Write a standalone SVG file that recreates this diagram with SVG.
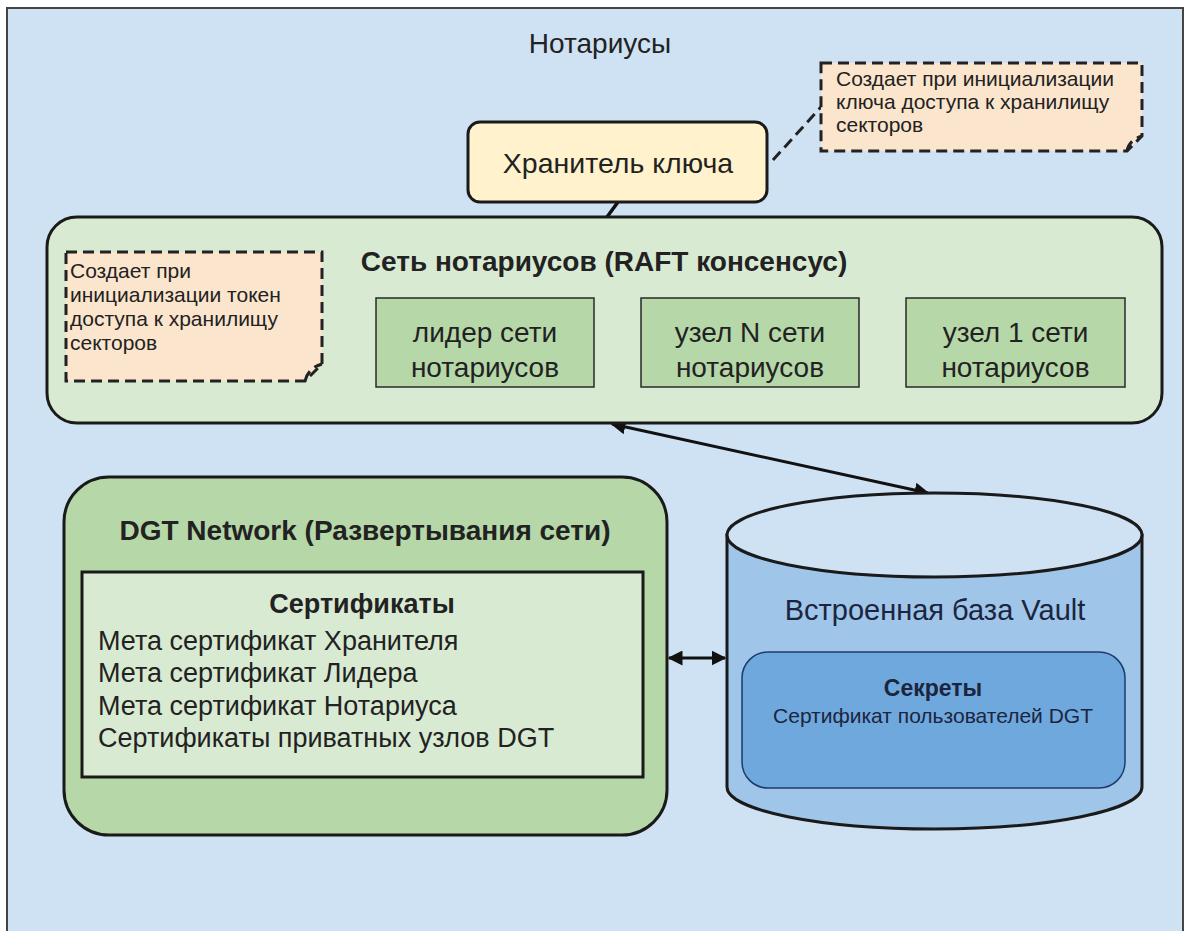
<svg xmlns="http://www.w3.org/2000/svg" width="1192" height="931" viewBox="0 0 1192 931">
<defs>
<style>
text{font-family:"Liberation Sans",Arial,sans-serif;fill:#222}
.c{text-anchor:middle}
.b{font-weight:bold}
.dash{fill:none;stroke:#222;stroke-width:3;stroke-dasharray:11,6}
.note{fill:#fce5cd;stroke:#222;stroke-width:3;stroke-dasharray:11,6}
.node{fill:#b6d7a8;stroke:#2a2a2a;stroke-width:1.5}
.navy{fill:#1b2540}
.nt{font-size:21px}
</style>
<marker id="ah" viewBox="0 0 10 10" refX="9" refY="5" markerWidth="5" markerHeight="5" orient="auto-start-reverse" markerUnits="strokeWidth">
<path d="M0,0 L10,5 L0,10 z" fill="#111"/>
</marker>
</defs>
<rect x="0" y="0" width="1192" height="931" fill="#ffffff"/>
<g id="frame">
<rect x="7" y="8" width="1176" height="935" fill="#cfe2f3" stroke="#444" stroke-width="2"/>
<text class="c" x="600" y="53" font-size="28">Нотариусы</text>
</g>
<g id="connectors">
<line x1="618" y1="202" x2="607" y2="217" stroke="#111" stroke-width="3.5"/>
<line class="dash" x1="773" y1="160" x2="821" y2="107"/>
<line class="dash" x1="322" y1="320" x2="377" y2="342"/>
<line x1="612" y1="424" x2="928" y2="493" stroke="#111" stroke-width="3" marker-start="url(#ah)" marker-end="url(#ah)"/>
<line x1="669" y1="658" x2="725" y2="658" stroke="#111" stroke-width="3" marker-start="url(#ah)" marker-end="url(#ah)"/>
</g>
<g id="keeper">
<rect x="468" y="122" width="299" height="80" rx="12" fill="#fff2cc" stroke="#1a1a1a" stroke-width="3"/>
<text class="c" x="618" y="173" font-size="28.5">Хранитель ключа</text>
</g>
<g id="note-keeper">
<path class="note" d="M821,63 H1142 V136 L1127,151 H821 Z"/>
<path class="dash" d="M1127,151 Q1129,140 1142,136"/>
<text class="nt" x="836" y="86">Создает при инициализации</text>
<text class="nt" x="836" y="109">ключа доступа к хранилищу</text>
<text class="nt" x="836" y="132">секторов</text>
</g>
<g id="notary-network">
<rect x="47" y="217" width="1115" height="206" rx="30" fill="#d9ead3" stroke="#1a1a1a" stroke-width="3"/>
<text class="c b" x="604" y="271" font-size="28">Сеть нотариусов (RAFT консенсус)</text>
</g>
<g id="note-leader">
<path class="note" d="M66,252 H322 V364 L305,381 H66 Z"/>
<path class="dash" d="M305,381 Q308,368 322,364"/>
<text class="nt" x="70" y="278">Создает при</text>
<text class="nt" x="70" y="302">инициализации токен</text>
<text class="nt" x="70" y="326">доступа к хранилищу</text>
<text class="nt" x="70" y="350">секторов</text>
</g>
<g id="leader">
<rect class="node" x="376" y="298" width="218" height="89"/>
<text class="c" x="485" y="342" font-size="28">лидер сети</text>
<text class="c" x="485" y="377" font-size="28">нотариусов</text>
</g>
<g id="node-n">
<rect class="node" x="641" y="298" width="218" height="89"/>
<text class="c" x="750" y="342" font-size="28">узел N сети</text>
<text class="c" x="750" y="377" font-size="28">нотариусов</text>
</g>
<g id="node-1">
<rect class="node" x="906" y="298" width="219" height="89"/>
<text class="c" x="1015.5" y="342" font-size="28">узел 1 сети</text>
<text class="c" x="1015.5" y="377" font-size="28">нотариусов</text>
</g>
<g id="dgt-network">
<rect x="64" y="477" width="603" height="358" rx="45" fill="#b6d7a8" stroke="#1a1a1a" stroke-width="3"/>
<text class="c b" x="365" y="540" font-size="28">DGT Network (Развертывания сети)</text>
</g>
<g id="certificates">
<rect x="82" y="572" width="561" height="205" fill="#d9ead3" stroke="#1a1a1a" stroke-width="3"/>
<text class="c b" x="362" y="613" font-size="27">Сертификаты</text>
<text x="98" y="650" font-size="27">Мета сертификат Хранителя</text>
<text x="98" y="682" font-size="27">Мета сертификат Лидера</text>
<text x="98" y="715" font-size="27">Мета сертификат Нотариуса</text>
<text x="98" y="747" font-size="27">Сертификаты приватных узлов DGT</text>
</g>
<g id="vault">
<path d="M727,535 V787 A207.5,42 0 0 0 1142,787 V535 Z" fill="#9fc5e8" stroke="#1a1a1a" stroke-width="3"/>
<ellipse cx="934.5" cy="535" rx="207.5" ry="42" fill="#cfe2f3" stroke="#1a1a1a" stroke-width="3"/>
<text class="c navy" x="935" y="620" font-size="29">Встроенная база Vault</text>
</g>
<g id="secrets">
<rect x="742" y="652" width="383" height="136" rx="26" fill="#6fa8dc" stroke="#1c3b6e" stroke-width="1.5"/>
<text class="c b navy" x="933" y="696" font-size="23">Секреты</text>
<text class="c navy" x="933" y="723" font-size="21">Сертификат пользователей DGT</text>
</g>
</svg>
